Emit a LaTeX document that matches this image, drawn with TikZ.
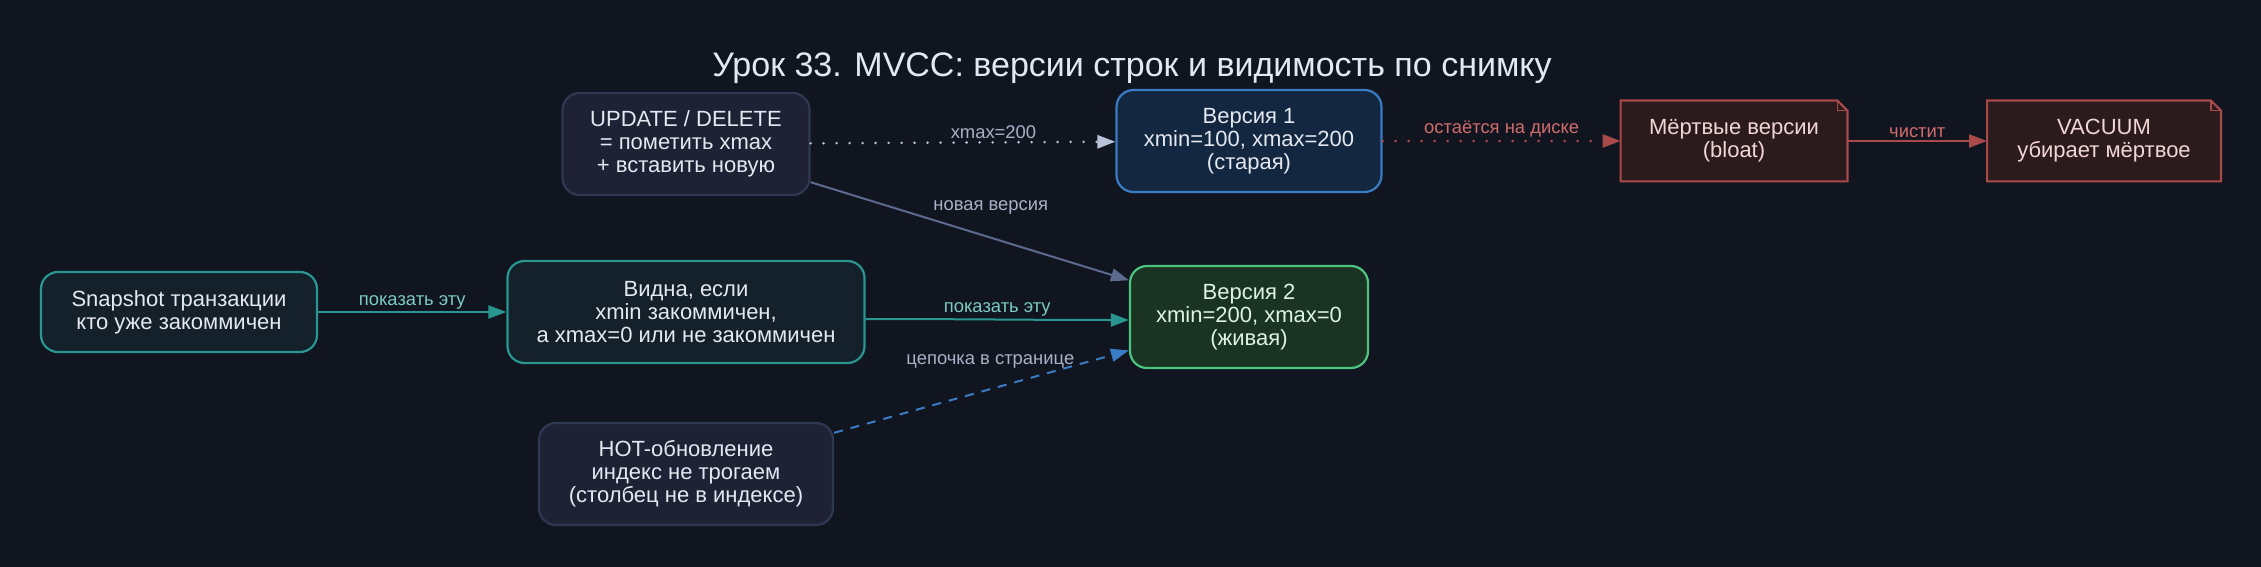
\documentclass[tikz,border=0pt]{standalone}
\usepackage{fontspec}
\setmainfont{Liberation Sans}
\usepackage{tikz}
\usetikzlibrary{arrows.meta, positioning, backgrounds}
\definecolor{bgdark}{HTML}{111520}
\definecolor{mytext}{HTML}{E4E8F0}
\definecolor{mygray}{HTML}{2F3852}
\definecolor{myteal}{HTML}{2A9690}
\definecolor{myblue}{HTML}{3A7CC4}
\definecolor{mygreen}{HTML}{4CC47F}
\definecolor{myred}{HTML}{A84A4A}
\definecolor{myslate}{HTML}{5B6A8E}
\definecolor{mylight}{HTML}{B8C2D8}
\definecolor{hdrgray}{HTML}{1E2234}
\definecolor{hdrteal}{HTML}{14202A}
\definecolor{hdrblue}{HTML}{132840}
\definecolor{hdrgreen}{HTML}{1A3322}
\definecolor{hdrred}{HTML}{2C1B1D}
\definecolor{lblgray}{HTML}{A8B2C6}
\definecolor{lblteal}{HTML}{7CCBC2}
\definecolor{lblred}{HTML}{D06C6C}
\definecolor{txtgreen}{HTML}{DDF3E4}
\definecolor{txtred}{HTML}{F2D6D6}
\newcommand{\boxfont}{\fontsize{11}{11.5}\selectfont}
\newcommand{\lblfont}{\fontsize{9.2}{10}\selectfont}
\newcommand{\ttlfont}{\fontsize{17}{20}\selectfont}
\tikzset{
  box/.style={rectangle, rounded corners=8.5pt, line width=1.1pt,
    align=center, font=\boxfont, text=mytext, inner sep=0pt},
  graybox/.style={box, draw=mygray, fill=hdrgray},
  tealbox/.style={box, draw=myteal, fill=hdrteal},
  bluebox/.style={box, draw=myblue, fill=hdrblue},
  greenbox/.style={box, draw=mygreen, fill=hdrgreen, text=txtgreen},
  notebox/.style={rectangle, align=center, font=\boxfont, text=txtred,
    inner sep=0pt, minimum width=113pt, minimum height=40pt},
  lbl/.style={font=\lblfont, inner sep=1pt}
}

\begin{document}
\begin{tikzpicture}[x=0.5pt, y=-0.5pt,
  arrow/.style={-{Triangle[length=9pt, width=6.5pt]}, line width=1pt},
  tealarrow/.style={arrow, color=myteal},
  redarrow/.style={arrow, color=myred},
  slatearrow/.style={arrow, color=myslate},
  dotarrow/.style={arrow, color=mylight, line width=1.4pt, line cap=round, dash pattern=on 0pt off 6.5pt},
  reddotarrow/.style={arrow, color=myred, line width=1.4pt, line cap=round, dash pattern=on 0pt off 6.5pt},
  dasharrow/.style={arrow, color=myblue, dash pattern=on 4.5pt off 4pt}]

  \useasboundingbox (0,0) rectangle (2261,567);

  \node[font=\ttlfont, text=mytext] (title) at (1132,68) {Урок 33. MVCC: версии строк и видимость по снимку};

  \node[graybox, minimum width=123.5pt, minimum height=51pt] (upd) at (686,144) {UPDATE / DELETE\\= пометить xmax\\+ вставить новую};
  \node[bluebox, minimum width=132.5pt, minimum height=51pt] (v1) at (1249,141) {Версия 1\\xmin=100, xmax=200\\(старая)};
  \node[notebox] (dead) at (1734,141) {Мёртвые версии\\(bloat)};
  \node[notebox, minimum width=116.5pt] (vac) at (2104,141) {VACUUM\\убирает мёртвое};
  \node[tealbox, minimum width=138pt, minimum height=40pt] (snap) at (179,312) {Snapshot транзакции\\кто уже закоммичен};
  \node[tealbox, minimum width=178.5pt, minimum height=51pt] (vis) at (686,312) {Видна, если\\xmin закоммичен,\\а xmax=0 или не закоммичен};
  \node[greenbox, minimum width=119pt, minimum height=51pt] (v2) at (1249,317) {Версия 2\\xmin=200, xmax=0\\(живая)};
  \node[graybox, minimum width=147pt, minimum height=51pt] (hot) at (686,474) {HOT-обновление\\индекс не трогаем\\(столбец не в индексе)};

  % note outlines under the text
  \begin{scope}[on background layer]
    \fill[bgdark] (0,0) rectangle (2261,567);
    \foreach \n in {dead, vac} {
      \draw[myred, fill=hdrred, line width=1.1pt] (\n.north west) -- ([xshift=-5pt]\n.north east)
        -- ([yshift=-5pt]\n.north east) -- (\n.south east) -- (\n.south west) -- cycle;
      \draw[myred, line width=0.8pt] ([xshift=-5pt]\n.north east) -- ([xshift=-5pt, yshift=-5pt]\n.north east)
        -- ([yshift=-5pt]\n.north east);
    }
  \end{scope}

  \draw[dotarrow] (upd) -- node[lbl, text=lblgray, above, pos=0.6] {xmax=200} (v1);
  \draw[slatearrow] (upd) -- node[lbl, text=lblgray, midway, xshift=10.5pt, yshift=12pt] {новая версия} (v2);
  \draw[tealarrow] (snap) -- node[lbl, text=lblteal, above] {показать эту} (vis);
  \draw[tealarrow] ([yshift=-3.5pt]vis.east) to[out=0, in=180] node[lbl, text=lblteal, above] {показать эту} ([yshift=-1.5pt]v2.west);
  \draw[dasharrow] (hot) -- node[lbl, text=lblgray, pos=0.53, above=9pt] {цепочка в странице} (v2);
  \draw[reddotarrow] (v1) -- node[lbl, text=lblred, above] {остаётся на диске} (dead);
  \draw[redarrow] (dead) -- node[lbl, text=lblred, above] {чистит} (vac);

\end{tikzpicture}
\end{document}
